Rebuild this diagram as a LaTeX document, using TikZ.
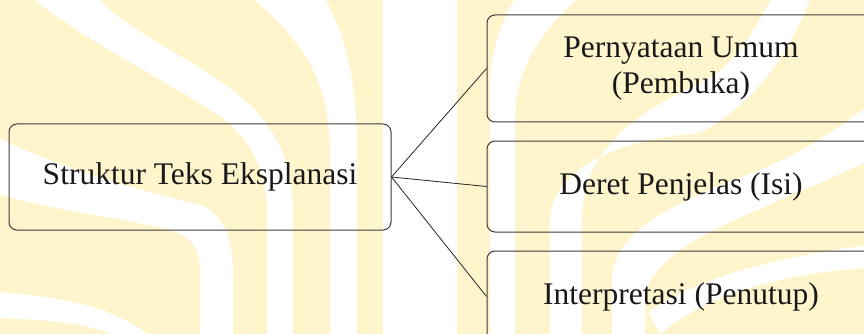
\documentclass[tikz,border=0pt]{standalone}
\usepackage{fontspec}
\setmainfont{Liberation Serif}
\definecolor{wmyellow}{RGB}{255,245,205}
\definecolor{boxline}{RGB}{60,60,60}
\begin{document}
\begin{tikzpicture}[x=1pt,y=-1pt,
  box/.style={draw=boxline, line width=1pt, rounded corners=8pt, align=center,
    font=\fontsize{31.5}{35.5}\selectfont, text=black!90, inner sep=0pt},
  link/.style={draw=black!85, line width=0.8pt},
  band/.style={fill=white}]
\useasboundingbox (0,0) rectangle (864,334);
\clip (0,0) rectangle (864,334);
% watermark background
\fill[wmyellow] (-5,-5) rectangle (870,340);
% left half bands
\fill[band] (30,-5) .. controls (80,40) and (160,75) .. (225,120)
  .. controls (255,145) and (267,175) .. (267,215) -- (267,340) -- (293,340) -- (293,215)
  .. controls (293,160) and (275,130) .. (250,105)
  .. controls (200,60) and (130,35) .. (95,-5) -- cycle;
\fill[band] (248,-5) .. controls (300,35) and (330,80) .. (330,150) -- (330,340)
  -- (357,340) -- (357,150) .. controls (357,80) and (345,30) .. (322,-5) -- cycle;
\fill[band] (383,-5) rectangle (457,340);
\fill[band] (-30,122) .. controls (40,165) and (140,190) .. (200,205)
  .. controls (225,215) and (233,240) .. (233,275) -- (233,340) -- (200,340) -- (200,275)
  .. controls (200,250) and (195,238) .. (170,230)
  .. controls (110,215) and (40,210) .. (-30,185) -- cycle;
\fill[band] (-30,290) .. controls (40,295) and (110,300) .. (155,340) -- (125,340)
  .. controls (90,322) and (40,318) .. (-30,318) -- cycle;
% right half bands
\fill[band] (490,340) -- (490,90) .. controls (490,45) and (505,15) .. (517,-5)
  -- (582,-5) .. controls (540,30) and (515,70) .. (515,120) -- (515,340) -- cycle;
\fill[band] (550,340) -- (550,220) .. controls (550,180) and (600,140) .. (700,133)
  .. controls (760,100) and (790,50) .. (812,-5) -- (773,-5)
  .. controls (750,40) and (730,70) .. (700,83)
  .. controls (620,120) and (582,160) .. (582,220) -- (582,340) -- cycle;
\fill[band] (612,340) -- (612,280) .. controls (612,230) and (680,200) .. (760,170)
  .. controls (810,150) and (840,125) .. (870,105) -- (870,160)
  .. controls (840,175) and (790,195) .. (730,222)
  .. controls (670,250) and (645,275) .. (645,300) -- (645,340) -- cycle;
\fill[band] (648,312) .. controls (700,275) and (790,255) .. (870,245) -- (870,268)
  .. controls (790,272) and (710,292) .. (660,334) -- cycle;
% diagram
\node[box, minimum width=382pt, minimum height=106pt] (root) at (200,177) {Struktur Teks Eksplanasi};
\node[box, minimum width=388pt, minimum height=107pt] (b1) at (681,68.5) {Pernyataan Umum\\(Pembuka)};
\node[box, minimum width=388pt, minimum height=91pt] (b2) at (681,186.5) {Deret Penjelas (Isi)};
\node[box, minimum width=388pt, minimum height=91pt] (b3) at (681,296.5) {Interpretasi (Penutup)};
\draw[link] (root.east) -- (b1.west);
\draw[link] (root.east) -- (b2.west);
\draw[link] (root.east) -- (b3.west);
\end{tikzpicture}
\end{document}
